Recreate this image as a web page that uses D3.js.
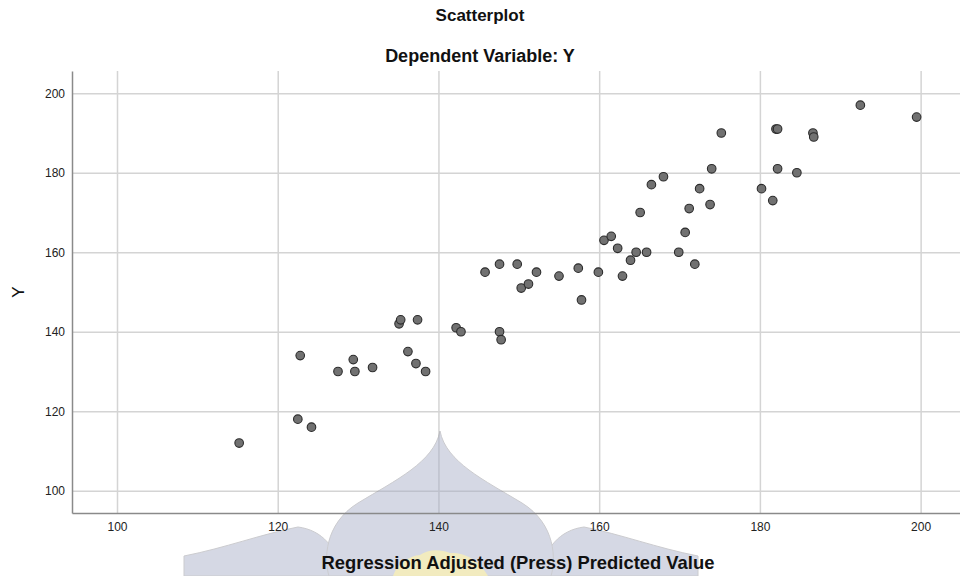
<!DOCTYPE html>
<html>
<head>
<meta charset="utf-8">
<script src="https://cdn.jsdelivr.net/npm/d3@7"></script>
<style>
  body { margin: 0; background: #fff; }
  svg { display: block; font-family: "Liberation Sans", Arial, sans-serif; }
</style>
</head>
<body>
<div id="chart"></div>
<script>
// predicted values (x) and observed Y
const predicted = [115.2, 122.5, 124.2, 122.8, 127.5, 129.4, 129.6, 131.8, 135.1, 135.3,
  137.4, 136.2, 137.2, 138.4, 142.2, 142.8, 147.6, 147.8, 145.8, 147.6,
  149.8, 150.3, 151.2, 152.2, 155.0, 157.4, 157.8, 159.9, 160.6, 161.5,
  162.3, 162.9, 163.9, 164.6, 165.1, 165.9, 166.5, 168.0, 169.9, 170.7,
  171.2, 171.9, 172.5, 173.8, 174.0, 175.2, 180.2, 181.6, 182.0, 182.2,
  182.2, 184.6, 186.6, 186.7, 192.5, 199.5]
const observed = [112, 118, 116, 134, 130, 133, 130, 131, 142, 143,
  143, 135, 132, 130, 141, 140, 140, 138, 155, 157,
  157, 151, 152, 155, 154, 156, 148, 155, 163, 164,
  161, 154, 158, 160, 170, 160, 177, 179, 160, 165,
  171, 157, 176, 172, 181, 190, 176, 173, 191, 191,
  181, 180, 190, 189, 197, 194]
const xTicks = [100, 120, 140, 160, 180, 200]
const yTicks = [100, 120, 140, 160, 180, 200]

const width = 960, height = 576
const margin = { top: 71, right: 0, bottom: 63, left: 72 }

const svg = d3.select('#chart').append('svg')
    .attr('width', width)
    .attr('height', height)

const x = d3.scaleLinear()
    .domain([94.4, 204.9])
    .range([margin.left, width - margin.right])
const y = d3.scaleLinear()
    .domain([94.4, 205.6])
    .range([height - margin.bottom, margin.top])

// grid
svg.append('g')
    .attr('transform', 'translate(0,' + (height - margin.bottom) + ')')
    .call(d3.axisBottom(x).tickValues(xTicks).tickSize(-(height - margin.top - margin.bottom)).tickFormat(''))
    .call(g => g.select('.domain').remove())
    .call(g => g.selectAll('line').attr('stroke', '#d4d4d4').attr('stroke-width', 1.5))
svg.append('g')
    .attr('transform', 'translate(' + margin.left + ',0)')
    .call(d3.axisLeft(y).tickValues(yTicks).tickSize(-(width - margin.left - margin.right)).tickFormat(''))
    .call(g => g.select('.domain').remove())
    .call(g => g.selectAll('line').attr('stroke', '#d4d4d4').attr('stroke-width', 1.5))

// watermark logo (decoration, sits behind the text)
const wm = svg.append('g').attr('opacity', 0.45)
wm.append('path')
    .attr('d', 'M184,556 C225,548 262,534 298,527 C322,530 338,548 342,576 L184,576 Z')
    .attr('fill', '#a4abc4').attr('stroke', '#8e8e96')
wm.append('path')
    .attr('d', 'M698,556 C657,548 620,534 584,527 C560,530 544,548 540,576 L698,576 Z')
    .attr('fill', '#a4abc4').attr('stroke', '#8e8e96')
wm.append('path')
    .attr('d', 'M440,431 C446,462 484,480 522,503 C556,524 556,560 551,576 L329,576 C324,560 324,524 358,503 C396,480 434,462 440,431 Z')
    .attr('fill', '#a4abc4').attr('stroke', '#8e8e96')
svg.append('path')
    .attr('d', 'M393,576 C398,562 410,556 420,555 C428,549 440,549 450,553 C462,552 478,558 488,576 Z')
    .attr('fill', '#f7efb8').attr('opacity', 0.85)

// axes
const xAxis = svg.append('g')
    .attr('transform', 'translate(0,' + (height - margin.bottom) + ')')
    .call(d3.axisBottom(x).tickValues(xTicks).tickSize(0).tickPadding(9))
xAxis.select('.domain').attr('stroke', '#8a8a8a').attr('stroke-width', 1.5)
xAxis.selectAll('text').attr('font-size', '12px').attr('fill', '#222').attr('font-family', '"Liberation Sans", Arial, sans-serif')

const yAxis = svg.append('g')
    .attr('transform', 'translate(' + margin.left + ',0)')
    .call(d3.axisLeft(y).tickValues(yTicks).tickSize(0).tickPadding(7))
yAxis.select('.domain').attr('stroke', '#8a8a8a').attr('stroke-width', 1.5)
yAxis.selectAll('text').attr('font-size', '12px').attr('fill', '#222').attr('font-family', '"Liberation Sans", Arial, sans-serif')

// points
const pts = predicted.map((p, i) => ({ p: p, o: observed[i] }))
svg.append('g').selectAll('circle')
    .data(pts)
    .enter().append('circle')
    .attr('cx', d => x(d.p))
    .attr('cy', d => y(d.o))
    .attr('r', 4.3)
    .attr('fill', '#717171')
    .attr('stroke', '#2b2b2b')
    .attr('stroke-width', 1.1)

// titles
svg.append('text')
    .attr('x', 480).attr('y', 21)
    .attr('text-anchor', 'middle')
    .attr('font-size', '17px').attr('font-weight', 'bold').attr('fill', '#111')
    .text('Scatterplot')
svg.append('text')
    .attr('x', 480).attr('y', 62)
    .attr('text-anchor', 'middle')
    .attr('font-size', '18px').attr('font-weight', 'bold').attr('fill', '#111')
    .text('Dependent Variable: Y')
svg.append('text')
    .attr('x', (margin.left + width - margin.right) / 2 + 2).attr('y', 569)
    .attr('text-anchor', 'middle')
    .attr('font-size', '18.4px').attr('font-weight', 'bold').attr('fill', '#111')
    .text('Regression Adjusted (Press) Predicted Value')
svg.append('text')
    .attr('transform', 'translate(24,' + ((margin.top + height - margin.bottom) / 2) + ') rotate(-90)')
    .attr('text-anchor', 'middle')
    .attr('font-size', '17px').attr('fill', '#111')
    .text('Y')
</script>
</body>
</html>
